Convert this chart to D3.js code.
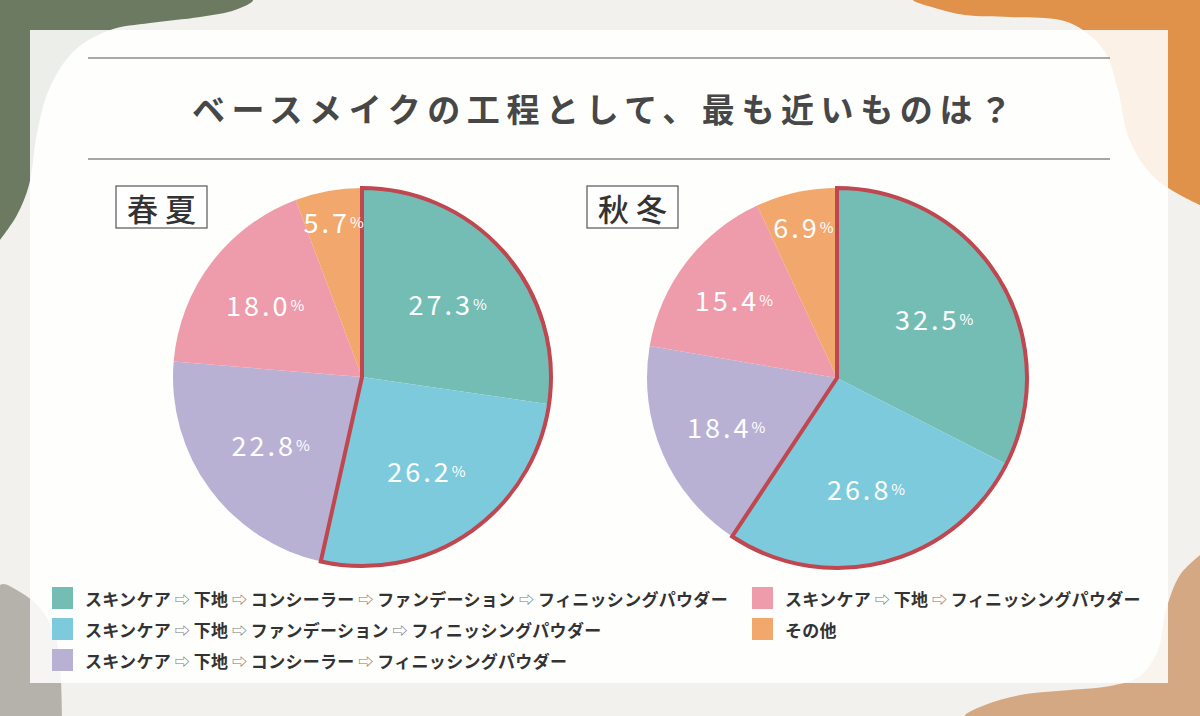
<!DOCTYPE html>
<html>
<head>
<meta charset="utf-8">
<script src="https://cdn.jsdelivr.net/npm/d3@7"></script>
<style>
  html, body { margin: 0; padding: 0; background: #f2f1ed; }
  svg { display: block; }
  text { font-family: "Noto Sans CJK JP", "Noto Sans", sans-serif; }
</style>
</head>
<body>
<div id="wrapper"></div>
<script>
const title = "ベースメイクの工程として、最も近いものは？"
const seasons = ["春夏", "秋冬"]
const routines = [
  "スキンケア ⇨ 下地 ⇨ コンシーラー ⇨ ファンデーション ⇨ フィニッシングパウダー",
  "スキンケア ⇨ 下地 ⇨ ファンデーション ⇨ フィニッシングパウダー",
  "スキンケア ⇨ 下地 ⇨ コンシーラー ⇨ フィニッシングパウダー",
  "スキンケア ⇨ 下地 ⇨ フィニッシングパウダー",
  "その他"
]
const springSummer = [27.3, 26.2, 22.8, 18.0, 5.7]
const autumnWinter = [32.5, 26.8, 18.4, 15.4, 6.9]
const colors = ["#73bdb5", "#7ccadb", "#b9b1d4", "#ee9bab", "#f2a76c"]

function drawChart() {
  const dimensions = { width: 1200, height: 716 }

  const wrapper = d3.select("#wrapper")
    .append("svg")
      .attr("width", dimensions.width)
      .attr("height", dimensions.height)

  // decorative blobs behind the translucent panel
  const blob = d3.line().curve(d3.curveCatmullRom.alpha(0.5))
  const blobs = [
    { color: "#6b7a60", pts: [[0, 0], [253, 0], [235, 10], [200, 17], [150, 23], [110, 30], [75, 50], [50, 87], [37, 133], [29, 185], [17, 215], [0, 240]] },
    { color: "#e0924a", pts: [[1200, 0], [913, 0], [935, 8], [965, 15], [1010, 17], [1060, 20], [1083, 30], [1105, 52], [1118, 90], [1127, 133], [1140, 160], [1157, 180], [1180, 195], [1200, 205]] },
    { color: "#b5b1ab", pts: [[0, 716], [0, 585], [20, 592], [40, 608], [55, 635], [60, 665], [62, 716]] },
    { color: "#d4a882", pts: [[1200, 716], [965, 716], [985, 705], [1020, 695], [1070, 690], [1110, 686], [1140, 676], [1158, 650], [1166, 610], [1180, 575], [1200, 555]] }
  ]
  wrapper.selectAll(".blob")
    .data(blobs)
    .enter().append("path")
      .attr("class", "blob")
      .attr("d", d => blob(d.pts) + "Z")
      .attr("fill", d => d.color)

  wrapper.append("rect")
    .attr("x", 30)
    .attr("y", 30)
    .attr("width", 1138)
    .attr("height", 653)
    .attr("fill", "#ffffff")
    .attr("opacity", 0.87)

  // title
  wrapper.append("line")
    .attr("x1", 88).attr("x2", 1110).attr("y1", 58).attr("y2", 58)
    .attr("stroke", "#555").attr("stroke-width", 1.2)
  wrapper.append("line")
    .attr("x1", 88).attr("x2", 1110).attr("y1", 159).attr("y2", 159)
    .attr("stroke", "#8a8a8a").attr("stroke-width", 1.5)
  wrapper.append("text")
    .attr("x", 602 + 3.3)
    .attr("y", 108)
    .attr("text-anchor", "middle")
    .attr("dominant-baseline", "central")
    .attr("font-size", 33)
    .attr("font-weight", 700)
    .attr("letter-spacing", 6.6)
    .attr("fill", "#474747")
    .text(title)

  // pies
  const pie = d3.pie().sort(null).value(d => d)
  const pies = [
    { name: seasons[0], values: springSummer, cx: 362, cy: 377, r: 189, box: 116 },
    { name: seasons[1], values: autumnWinter, cx: 837, cy: 378, r: 190, box: 587 }
  ]

  pies.forEach(p => {
    const arcs = pie(p.values)
    const arc = d3.arc().innerRadius(0).outerRadius(p.r)
    const g = wrapper.append("g")
      .attr("transform", `translate(${p.cx}, ${p.cy})`)

    g.selectAll(".slice")
      .data(arcs)
      .enter().append("path")
        .attr("class", "slice")
        .attr("d", arc)
        .attr("fill", (d, i) => colors[i])

    // outline around the first two routines
    g.append("path")
      .attr("d", arc({ startAngle: arcs[0].startAngle, endAngle: arcs[1].endAngle }))
      .attr("fill", "none")
      .attr("stroke", "#c0464f")
      .attr("stroke-width", 4)
      .attr("stroke-linejoin", "miter")

    const labels = g.selectAll(".label")
      .data(arcs)
      .enter().append("text")
        .attr("class", "label")
        .attr("transform", d => {
          const k = Math.max(0.6, 0.93 - 1.6 * d.value / 100)
          const a = (d.startAngle + d.endAngle) / 2
          return `translate(${Math.sin(a) * p.r * k}, ${-Math.cos(a) * p.r * k})`
        })
        .attr("text-anchor", "middle")
        .attr("dominant-baseline", "central")
        .attr("fill", "#ffffff")
        .attr("letter-spacing", 3)
    labels.append("tspan")
      .attr("font-size", 27)
      .text(d => d3.format(".1f")(d.value))
    labels.append("tspan")
      .attr("font-size", 15)
      .attr("letter-spacing", 0)
      .text("%")

    wrapper.append("rect")
      .attr("x", p.box)
      .attr("y", 186)
      .attr("width", 91)
      .attr("height", 42)
      .attr("fill", "#ffffff")
      .attr("stroke", "#555")
      .attr("stroke-width", 1.2)
    wrapper.append("text")
      .attr("x", p.box + 45.5 + 3.5)
      .attr("y", 207)
      .attr("text-anchor", "middle")
      .attr("dominant-baseline", "central")
      .attr("font-size", 31)
      .attr("font-weight", 500)
      .attr("letter-spacing", 7)
      .attr("fill", "#333")
      .text(p.name)
  })

  // legend
  const colX = [52, 752]
  const rowY = [598, 629, 660]
  const legendGroup = wrapper.selectAll(".legend-item")
    .data(routines)
    .enter().append("g")
      .attr("class", "legend-item")
      .attr("transform", (d, i) => `translate(${colX[i < 3 ? 0 : 1]}, ${rowY[i < 3 ? i : i - 3]})`)

  legendGroup.append("rect")
    .attr("x", 0)
    .attr("y", -11)
    .attr("width", 21)
    .attr("height", 22)
    .attr("fill", (d, i) => colors[i])

  const legendText = legendGroup.append("text")
    .attr("x", 33)
    .attr("y", 0)
    .attr("dominant-baseline", "central")
    .attr("font-size", 17)
    .attr("font-weight", 700)
    .attr("letter-spacing", 0.3)
    .attr("fill", "#333")

  legendText.selectAll("tspan")
    .data(d => d.split(" ⇨ ").flatMap((s, i) => i === 0 ? [s] : ["⇨", s]))
    .enter().append("tspan")
      .text(d => d === "⇨" ? " ⇨ " : d)
      .attr("font-size", d => d === "⇨" ? 15 : 17)
      .attr("font-weight", d => d === "⇨" ? 400 : 700)
      .attr("fill", d => d === "⇨" ? "#777" : "#333")
}

drawChart()
</script>
</body>
</html>
